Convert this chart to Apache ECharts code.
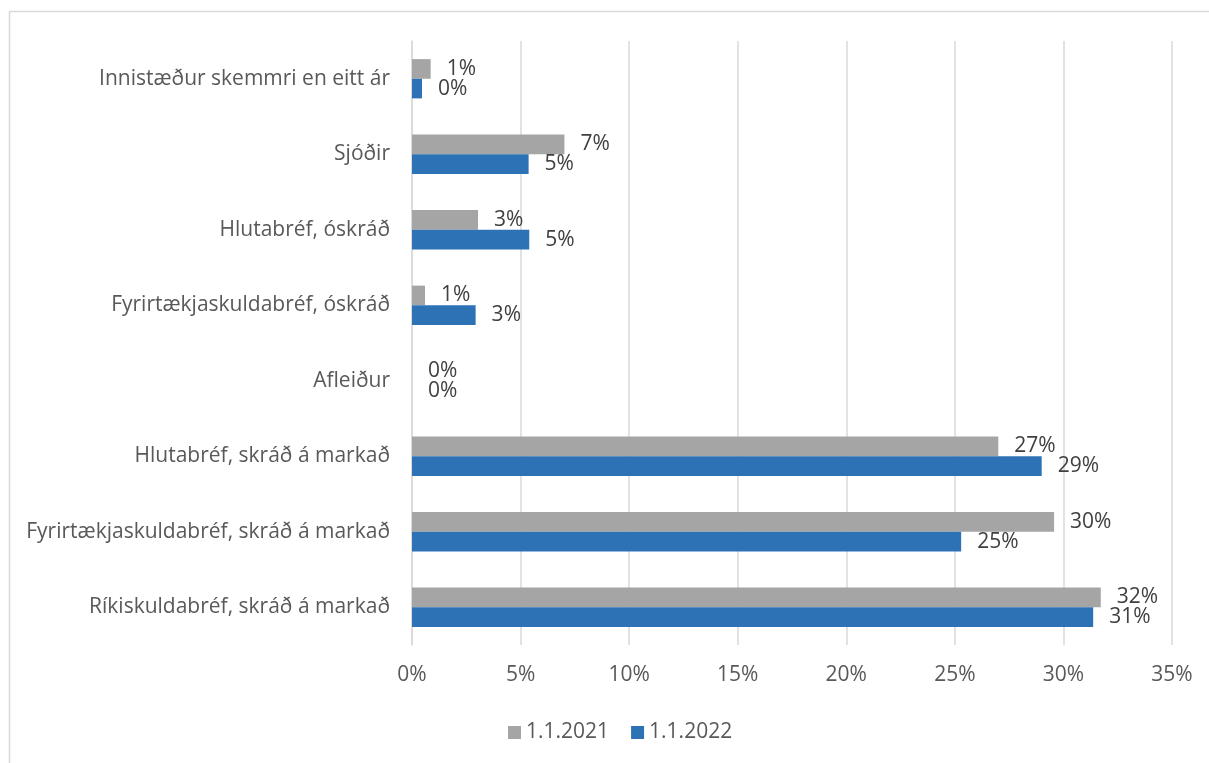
<!DOCTYPE html>
<html>
<head>
<meta charset="utf-8">
<script src="https://cdn.jsdelivr.net/npm/echarts@6/dist/echarts.min.js"></script>
<style>
  html, body { margin: 0; padding: 0; background: #ffffff; }
  #chart { width: 1209px; height: 763px; }
</style>
</head>
<body>
<div id="chart"></div>
<script>
// Asset classes, listed top to bottom
const categories = [
  'Innistæður skemmri en eitt ár',
  'Sjóðir',
  'Hlutabréf, óskráð',
  'Fyrirtækjaskuldabréf, óskráð',
  'Afleiður',
  'Hlutabréf, skráð á markað',
  'Fyrirtækjaskuldabréf, skráð á markað',
  'Ríkiskuldabréf, skráð á markað'
];

// Share of portfolio (%)
const seriesNames = ['1.1.2021', '1.1.2022'];
const values2021 = [0.86, 7.02, 3.04, 0.60, 0, 27.0, 29.57, 31.72];
const values2022 = [0.46, 5.37, 5.40, 2.93, 0, 29.0, 25.29, 31.37];

const axisMax = 35;
const axisStep = 5;

const colors = ['#A5A5A5', '#2E72B6'];
const font = 'Open Sans';

const chart = echarts.init(document.getElementById('chart'), null, { renderer: 'canvas' });

function barSeries(name, data, color) {
  return {
    name: name,
    type: 'bar',
    data: data,
    barGap: '0%',
    barCategoryGap: '48%',
    itemStyle: { color: color },
    label: {
      show: true,
      position: 'right',
      distance: 16,
      fontFamily: font,
      fontSize: 21,
      color: '#404040',
      formatter: p => Math.round(p.value) + '%'
    }
  };
}

chart.setOption({
  animation: false,
  textStyle: { fontFamily: font },
  graphic: [{
    type: 'rect',
    shape: { x: 9.5, y: 11.5, width: 1400, height: 900 },
    style: { fill: 'none', stroke: '#D9D9D9', lineWidth: 1.5 },
    silent: true
  }],
  grid: { left: 412, right: 37, top: 41, bottom: 118, containLabel: false },
  xAxis: {
    type: 'value',
    min: 0,
    max: axisMax,
    interval: axisStep,
    axisLine: { show: false },
    axisTick: { show: false },
    splitLine: { show: true, lineStyle: { color: '#D9D9D9', width: 1.5 } },
    axisLabel: {
      formatter: '{value}%',
      fontFamily: font,
      fontSize: 21,
      color: '#595959',
      margin: 20
    }
  },
  yAxis: {
    type: 'category',
    data: categories,
    inverse: true,
    axisLine: { show: true, lineStyle: { color: '#D9D9D9', width: 1.5 } },
    axisTick: { show: false },
    axisLabel: {
      fontFamily: font,
      fontSize: 21,
      color: '#595959',
      margin: 22
    }
  },
  legend: {
    data: seriesNames,
    left: 503,
    top: 717,
    itemWidth: 13,
    itemHeight: 13,
    itemGap: 22,
    icon: 'rect',
    textStyle: { fontFamily: font, fontSize: 21, color: '#595959' }
  },
  series: [
    barSeries(seriesNames[0], values2021, colors[0]),
    barSeries(seriesNames[1], values2022, colors[1])
  ]
});
</script>
</body>
</html>
